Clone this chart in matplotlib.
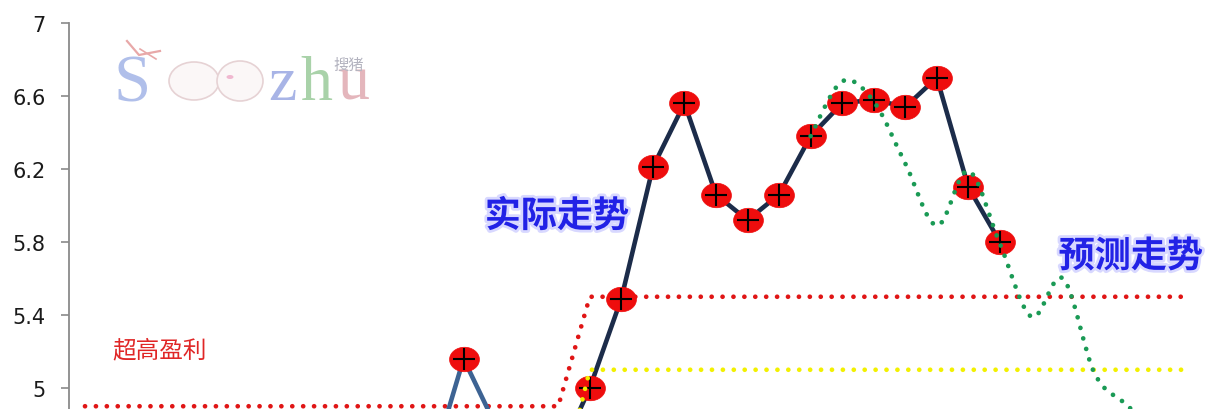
import numpy as np
import matplotlib
matplotlib.use("Agg")
import matplotlib.pyplot as plt
from matplotlib.path import Path
from matplotlib.patches import PathPatch, Ellipse
from matplotlib.lines import Line2D
import matplotlib.patheffects as pe

plt.rcParams['font.family'] = ['DejaVu Sans', 'Noto Sans CJK SC']

# ---------------- data ----------------
actual_idx_early = [11, 12, 13, 14, 15]
actual_val_early = [4.58, 5.16, 4.80, 4.70, 4.62]
actual_idx = [15, 16, 17, 18, 19, 20, 21, 22, 23, 24, 25, 26, 27, 28, 29]
actual_val = [4.62, 5.00, 5.49, 6.21, 6.56, 6.06, 5.92, 6.06, 6.38, 6.56, 6.58, 6.54, 6.70, 6.10, 5.80]
marker_idx = [12, 13, 16, 17, 18, 19, 20, 21, 22, 23, 24, 25, 26, 27, 28, 29]
marker_val = [5.16, 4.80, 5.00, 5.49, 6.21, 6.56, 6.06, 5.92, 6.06, 6.38, 6.56, 6.58, 6.54, 6.70, 6.10, 5.80]

red_idx = list(range(0, 36))
red_val = [4.90] * 16 + [5.50] * 20

yellow_idx = list(range(15, 36))
yellow_val = [4.40] + [5.10] * 20

forecast_idx = [23, 24, 25, 26, 27, 28, 29, 30, 31, 32, 33, 34]
forecast_val = [6.38, 6.68, 6.57, 6.23, 5.89, 6.19, 5.79, 5.39, 5.60, 5.08, 4.91, 4.75]

ytick_vals = [5.0, 5.4, 5.8, 6.2, 6.6, 7.0]
ytick_labels = ["5", "5.4", "5.8", "6.2", "6.6", "7"]

label_actual = "实际走势"
label_forecast = "预测走势"
label_high = "超高盈利"

# ---------------- figure ----------------
W, H = 1211, 410
fig = plt.figure(figsize=(W / 100, H / 100), dpi=100)
ax = fig.add_axes([69 / W, 0, (1205 - 69) / W, (410 - 24) / H])
ax.set_xlim(-0.507, 35.5)
ax.set_ylim(7 - 386 / 182.5, 7.0)

dot = (0, (0.01, 2.3))
ax.plot(red_idx, red_val, color='#e01515', lw=3.4, linestyle=dot,
        dash_capstyle='round', solid_capstyle='round', zorder=1)

ax.plot(actual_idx_early, actual_val_early, color='#3d6393', lw=3.3, zorder=2,
        solid_joinstyle='round')
ax.plot(actual_idx, actual_val, color='#1c2c4a', lw=3.3, zorder=2,
        solid_joinstyle='round')

t = np.linspace(0, 2 * np.pi, 60)
ell = Path(np.column_stack([np.cos(t), 0.82 * np.sin(t)]), closed=True)
ax.plot(marker_idx, marker_val, linestyle='none', marker=ell, markersize=21.5,
        markerfacecolor='#ee0d0d', markeredgecolor='#ee0d0d', mew=0.5, zorder=3)
ax.plot(marker_idx, marker_val, linestyle='none', marker='+', markersize=16,
        color='black', mew=1.5, zorder=4)

ax.plot(yellow_idx, yellow_val, color='#f2f000', lw=3.4, linestyle=dot,
        dash_capstyle='round', zorder=5)

# smooth forecast curve (Bezier segments through the points, like Excel's smoothed line)
px = np.array(forecast_idx, dtype=float)
py = np.array(forecast_val, dtype=float)
verts = [(px[0], py[0])]
codes = [Path.MOVETO]
n = len(px)
for i in range(n - 1):
    p0 = (px[max(i - 1, 0)], py[max(i - 1, 0)])
    p1 = (px[i], py[i])
    p2 = (px[i + 1], py[i + 1])
    p3 = (px[min(i + 2, n - 1)], py[min(i + 2, n - 1)])
    c1 = (p1[0] + (p2[0] - p0[0]) / 6, p1[1] + (p2[1] - p0[1]) / 6)
    c2 = (p2[0] - (p3[0] - p1[0]) / 6, p2[1] - (p3[1] - p1[1]) / 6)
    verts += [c1, c2, p2]
    codes += [Path.CURVE4] * 3
green = PathPatch(Path(verts, codes), facecolor='none', edgecolor='#1a9a55',
                  lw=3.4, linestyle=dot, capstyle='round', zorder=6)
ax.add_patch(green)

# axes styling
for s in ['top', 'right', 'bottom']:
    ax.spines[s].set_visible(False)
ax.spines['left'].set_color('#8a8a8a')
ax.spines['left'].set_linewidth(1.3)
ax.set_xticks([])
ax.set_yticks(ytick_vals)
ax.set_yticklabels(ytick_labels)
ax.tick_params(axis='y', direction='out', length=6, width=1.2, color='#8a8a8a',
               labelsize=15, labelcolor='#1a1a1a', pad=11)

# annotations
glow = [pe.withStroke(linewidth=4, foreground='#d8d8ff')]
cjk = ['Noto Sans CJK SC', 'DejaVu Sans']
ax.text(14.96, 5.94, label_actual, color='#2222e6', fontsize=26, fontweight='bold',
        family=cjk, ha='center', va='center', path_effects=glow, zorder=7)
ax.text(33.15, 5.72, label_forecast, color='#2222e6', fontsize=26, fontweight='bold',
        family=cjk, ha='center', va='center', path_effects=glow, zorder=7)
ax.text(2.38, 5.21, label_high, color='#e02626', fontsize=17,
        family=cjk, ha='center', va='center', zorder=7)

# watermark logo
def fx(p):
    return p / W

def fy(p):
    return 1 - p / H

serif = ['Liberation Serif', 'DejaVu Serif']
fig.text(fx(113), fy(101), "S", color='#a8b8e8', fontsize=48, family=serif,
         va='baseline', ha='left', alpha=0.9)
fig.add_artist(Line2D([fx(127), fx(139), fx(160)], [fy(42), fy(56), fy(52)],
                      transform=fig.transFigure, color='#e8a8a8', lw=1.6))
fig.add_artist(Line2D([fx(140), fx(156)], [fy(50), fy(60)],
                      transform=fig.transFigure, color='#e8a8a8', lw=1.2))
fig.add_artist(Ellipse((fx(194), fy(82)), 50 / W, 38 / H, transform=fig.transFigure,
                       facecolor='#fbf7f7', edgecolor='#e6d2d4', lw=1.2))
fig.add_artist(Ellipse((fx(240), fy(82)), 46 / W, 40 / H, transform=fig.transFigure,
                       facecolor='#fbf7f7', edgecolor='#e6d2d4', lw=1.2))
fig.add_artist(Ellipse((fx(230), fy(78)), 7 / W, 4 / H, transform=fig.transFigure,
                       facecolor='#f0b8d0', edgecolor='none'))
fig.text(fx(268), fy(100), "z", color='#a8b4e6', fontsize=46, family=serif,
         va='baseline', ha='left')
fig.text(fx(300), fy(100), "h", color='#a9d2a9', fontsize=46, family=serif,
         va='baseline', ha='left')
fig.text(fx(337), fy(100), "u", color='#e4b6bc', fontsize=46, family=serif,
         va='baseline', ha='left')
fig.text(fx(333), fy(70), "搜猪", color='#b4b4c0', fontsize=11, family=cjk,
         va='baseline', ha='left')

fig.savefig("out.png", dpi=100)
